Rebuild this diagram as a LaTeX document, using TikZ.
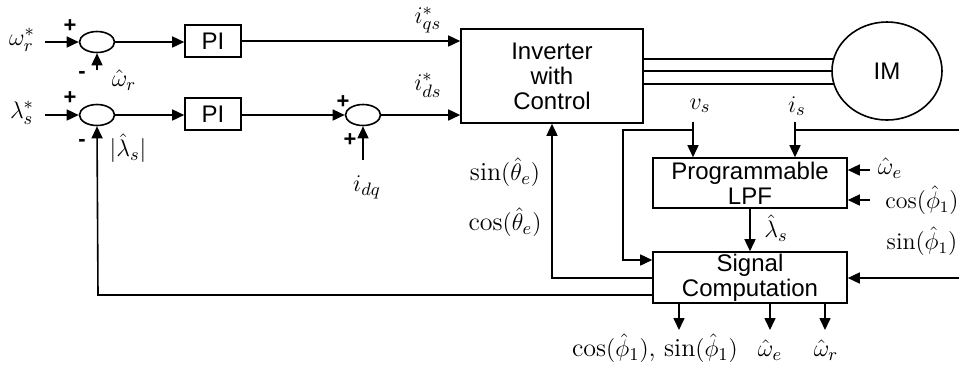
\documentclass[tikz,border=0pt]{standalone}
\usepackage{fontspec}
\setsansfont{Liberation Sans}
\usetikzlibrary{arrows.meta,shapes.geometric,calc}
\begin{document}
\begin{tikzpicture}[x=0.5pt,y=-0.5pt,
  line width=0.8pt,
  >={Triangle[length=6pt,width=5.5pt]},
  sumnode/.style={draw,ellipse,minimum width=17.5pt,minimum height=10.5pt,inner sep=0pt},
  blockbox/.style={draw,rectangle,inner sep=0pt,font=\sffamily\fontsize{12}{12.5}\selectfont,align=center},
  lbl/.style={inner sep=0pt,font=\fontsize{13}{15}\selectfont},
  slbl/.style={inner sep=0pt,font=\fontsize{12}{14}\selectfont},
  sgn/.style={inner sep=0pt,font=\sffamily\bfseries\fontsize{11}{12}\selectfont}
]
\useasboundingbox (0,0) rectangle (959,371);

% blocks
\node[sumnode] (s1) at (97,42) {};
\node[sumnode] (s2) at (97,115) {};
\node[sumnode] (s3) at (363,115) {};
\node[blockbox,minimum width=28pt,minimum height=16pt] (pi1) at (213,41) {PI};
\node[blockbox,minimum width=28pt,minimum height=16pt] (pi2) at (213,114) {PI};
\node[blockbox,minimum width=91pt,minimum height=47pt] (inv) at (552,76) {Inverter\\with\\Control};
\node[draw,ellipse,minimum width=55pt,minimum height=49pt,inner sep=0pt,font=\sffamily\fontsize{12}{13.5}\selectfont] (im) at (887,71) {IM};
\node[blockbox,minimum width=97pt,minimum height=25pt] (lpf) at (750,183) {Programmable\\LPF};
\node[blockbox,minimum width=97pt,minimum height=25.5pt] (sig) at (750,277.5) {Signal\\Computation};

% input coordinates
\coordinate (wr) at (45,42);
\coordinate (ls) at (45,115);
\coordinate (wrhat) at (97,70);
\coordinate (idq) at (363,160);

% labels
\node[lbl] (lwr) at (22,40) {$\omega_r^{*}$};
\node[lbl] (lls) at (22,113) {$\lambda_s^{*}$};
\node[sgn] (p1) at (70,26) {+};
\node[sgn] (m1) at (82,75) {-};
\node[lbl] (lwh) at (124,80) {$\hat{\omega}_r$};
\node[sgn] (p2) at (70,98) {+};
\node[sgn] (m2) at (82,143) {-};
\node[lbl] (llh) at (128,148) {$|\hat{\lambda}_s|$};
\node[sgn] (p3) at (343,102) {+};
\node[sgn] (p4) at (350,140) {+};
\node[lbl] (lidq) at (367,187) {$i_{dq}$};
\node[lbl] (liqs) at (428,20) {$i_{qs}^{*}$};
\node[lbl] (lids) at (428,85) {$i_{ds}^{*}$};
\node[lbl] (lsin) at (505,172) {$\sin(\hat{\theta}_e)$};
\node[lbl] (lcos) at (505,222) {$\cos(\hat{\theta}_e)$};
\node[lbl] (lvs) at (700,106) {$v_s$};
\node[lbl] (lis) at (797,106) {$i_s$};
\node[lbl] (llam) at (776,228) {$\hat{\lambda}_s$};
\node[lbl] (lwe) at (890,168) {$\hat{\omega}_e$};
\node[slbl] (lc1) at (922,200) {$\cos(\hat{\phi}_1)$};
\node[slbl] (ls1) at (922,241) {$\sin(\hat{\phi}_1)$};
\node[lbl] (lo1) at (655,348) {$\cos(\hat{\phi}_1)$, $\sin(\hat{\phi}_1)$};
\node[lbl] (lo2) at (770,350) {$\hat{\omega}_e$};
\node[lbl] (lo3) at (826,350) {$\hat{\omega}_r$};

% forward path
\draw[->] (wr) -- (s1.west);
\draw[->] (ls) -- (s2.west);
\draw[->] (s1.east) -- (s1.east -| pi1.west);
\draw[->] (s2.east) -- (s2.east -| pi2.west);
\draw[->] (pi1.east) -- (pi1.east -| inv.west);
\draw[->] (pi2.east |- s3) -- (s3.west);
\draw[->] (s3.east) -- (s3.east -| inv.west);
\draw[->] (wrhat) -- (s1.south);
\draw[->] (idq) -- (s3.south);

% inverter to motor
\path (im.center) ++(-53.4,-12) coordinate (ma);
\path (im.center) ++(-55,0) coordinate (mb);
\path (im.center) ++(-53.2,13) coordinate (mc);
\draw (inv.east |- ma) -- (ma);
\draw (inv.east |- mb) -- (mb);
\draw (inv.east |- mc) -- (mc);

% measurements
\coordinate (vstop) at (693,122);
\coordinate (istop) at (795,122);
\coordinate (vsj) at (693,130);
\coordinate (isj) at (795,130);
\coordinate (rt) at (959,130);
\coordinate (lc) at (623,130);
\coordinate (lcb) at (623,260);
\draw[->] (vstop) -- (vstop |- lpf.north);
\draw[->] (istop) -- (istop |- lpf.north);
\draw (rt) -- (isj);
\draw[->] (vsj) -- (lc) -- (lcb) -- (lcb -| sig.west);

% right inputs
\coordinate (we) at (870,170);
\coordinate (c1) at (870,200);
\coordinate (rs) at (959,278);
\draw[->] (we) -- (we -| lpf.east);
\draw[->] (c1) -- (c1 -| lpf.east);
\draw[->] (rs) -- (rs -| sig.east);

% LPF to signal
\draw[->] (lpf.south) -- (sig.north);

% feedback
\coordinate (fbs) at (653,278);
\coordinate (fbx) at (552,278);
\draw[->] (fbs) -- (fbx) -- (inv.south);
\coordinate (fls) at (653,295);
\coordinate (flx) at (98,295);
\draw[->] (fls) -- (flx) -- (s2.south);

% outputs
\coordinate (o1) at (679,330);
\coordinate (o2) at (770,330);
\coordinate (o3) at (825,330);
\draw[->] (sig.south -| o1) -- (o1);
\draw[->] (sig.south -| o2) -- (o2);
\draw[->] (sig.south -| o3) -- (o3);
\end{tikzpicture}
\end{document}
